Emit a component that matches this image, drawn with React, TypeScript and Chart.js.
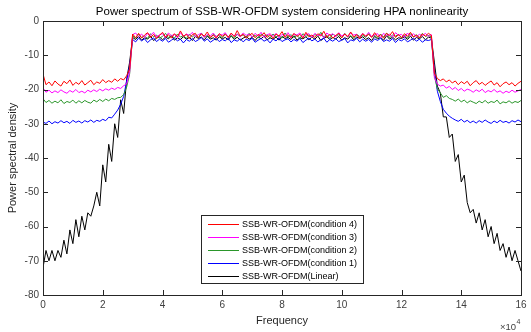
import React, { useEffect, useRef } from "react";
import { Chart, registerables } from "chart.js";

Chart.register(...registerables);

// x grid: 1000 Hz spacing from 0 to 160000
const FREQ_STEP = 1000;
const frequency: number[] = Array.from({ length: 161 }, (_, i) => i * FREQ_STEP);

const xTickValues = [0, 20000, 40000, 60000, 80000, 100000, 120000, 140000, 160000];
const xTickLabels = ["0", "2", "4", "6", "8", "10", "12", "14", "16"];
const yTickValues = [0, -10, -20, -30, -40, -50, -60, -70, -80];

const seriesLabels = [
  "SSB-WR-OFDM(condition 4)",
  "SSB-WR-OFDM(condition 3)",
  "SSB-WR-OFDM(condition 2)",
  "SSB-WR-OFDM(condition 1)",
  "SSB-WR-OFDM(Linear)",
];
const seriesColors = ["#ff0000", "#ff00ff", "#2a962a", "#0000ff", "#000000"];

// ---- condition 4 (red)
const cond4Left = [
  -15.5, -18.6, -17.8, -18.9, -17.5, -18.4, -19.0, -17.6, -18.3, -17.2,
  -18.8, -17.9, -18.5, -17.4, -18.7, -18.0, -17.3, -18.6, -17.8, -18.2,
  -17.1, -18.0, -17.4, -17.9, -16.9, -17.6, -16.8, -17.2, -16.0, -14.0,
];
const cond4Band = [
  -3.8, -4.9, -3.6, -5.0, -4.1, -3.4, -4.8, -3.9, -5.1, -4.2,
  -3.3, -4.7, -4.0, -5.0, -3.7, -4.6, -2.9, -4.5, -3.9, -5.1,
  -4.0, -3.6, -4.9, -3.8, -4.4, -3.2, -4.8, -4.1, -5.0, -3.7,
  -4.5, -3.9, -4.8, -3.5, -4.6, -2.8, -4.4, -3.9, -5.0, -4.2,
  -3.6, -4.9, -3.9, -4.5, -3.4, -4.8, -4.0, -5.1, -3.8, -4.4,
  -3.1, -4.7, -4.0, -4.9, -3.6, -4.5, -3.9, -5.0, -3.3, -4.6,
  -4.1, -4.8, -3.7, -4.4, -3.0, -4.8, -3.9, -5.0, -4.2, -3.6,
  -4.9, -3.8, -4.5, -3.2, -4.7, -4.0, -5.1, -3.7, -4.4, -3.9,
  -4.8, -3.4, -4.6, -4.0, -5.0, -3.6, -4.3, -3.1, -4.8, -4.0,
  -4.9, -3.7, -4.5, -3.3, -4.7, -4.1, -5.0, -3.8, -4.4, -3.6,
  -4.2,
];
const cond4Right = [
  -15.2, -16.8, -17.4, -16.9, -17.8, -17.2, -18.1, -17.5, -18.6, -17.7,
  -18.3, -17.6, -18.9, -18.0, -17.4, -18.5, -17.9, -18.8, -18.1, -17.5,
  -18.7, -18.0, -19.2, -18.3, -17.8, -18.6, -18.0, -19.0, -18.2, -17.6,
];

// ---- condition 3 (magenta)
const cond3Left = [
  -19.5, -20.8, -20.2, -21.0, -20.4, -20.9, -20.1, -20.7, -21.1, -20.3,
  -20.8, -20.0, -20.9, -20.5, -21.0, -20.2, -20.7, -20.1, -20.6, -19.9,
  -20.4, -19.8, -20.2, -19.6, -20.0, -19.4, -19.7, -18.9, -18.4, -15.0,
];
const cond3Band = [
  -4.0, -3.5, -4.6, -3.8, -4.9, -3.6, -4.2, -3.3, -4.7, -4.0,
  -3.7, -4.8, -3.5, -4.3, -3.9, -4.9, -3.4, -4.5, -3.8, -4.2,
  -3.3, -4.6, -4.0, -3.6, -4.8, -3.9, -4.4, -3.5, -4.7, -3.8,
  -4.1, -3.4, -4.9, -3.7, -4.3, -3.9, -4.6, -3.5, -4.2, -3.8,
  -4.7, -3.6, -4.4, -3.3, -4.8, -4.0, -3.7, -4.5, -3.6, -4.9,
  -3.9, -4.3, -3.4, -4.7, -3.8, -4.1, -3.5, -4.6, -4.0, -3.7,
  -4.8, -3.6, -4.3, -3.9, -4.9, -3.5, -4.2, -3.7, -4.6, -3.4,
  -4.4, -3.8, -4.7, -3.5, -4.1, -3.9, -4.8, -3.6, -4.5, -3.3,
  -4.6, -4.0, -3.7, -4.9, -3.6, -4.3, -3.8, -4.7, -3.4, -4.2,
  -3.9, -4.8, -3.5, -4.4, -3.7, -4.6, -3.9, -4.3, -3.6, -4.5,
  -4.0,
];
const cond3Right = [
  -16.5, -18.4, -19.0, -18.7, -19.6, -19.1, -20.0, -19.4, -20.3, -19.7,
  -20.5, -19.9, -20.2, -20.8, -20.1, -20.6, -19.9, -20.9, -20.3, -20.7,
  -20.0, -20.8, -20.4, -21.1, -20.5, -20.9, -20.2, -20.8, -20.4, -20.0,
];

// ---- condition 2 (green)
const cond2Left = [
  -22.7, -23.8, -23.2, -24.0, -23.4, -23.9, -23.0, -24.1, -23.5, -23.8,
  -23.1, -24.0, -23.3, -23.9, -23.2, -23.7, -24.0, -23.1, -23.6, -22.9,
  -23.5, -22.8, -23.3, -22.6, -22.9, -22.4, -22.3, -21.5, -19.3, -15.5,
];
const cond2Band = [
  -4.3, -5.0, -3.9, -4.8, -4.4, -5.1, -3.7, -4.6, -4.1, -5.0,
  -4.5, -3.6, -4.9, -4.2, -5.0, -3.8, -4.7, -4.3, -5.1, -3.9,
  -4.6, -4.0, -4.9, -3.5, -4.7, -4.2, -5.0, -3.9, -4.5, -4.1,
  -4.9, -3.7, -4.6, -4.3, -5.1, -3.8, -4.5, -4.0, -4.8, -3.6,
  -4.7, -4.2, -5.0, -3.9, -4.4, -4.1, -4.9, -3.8, -4.6, -4.3,
  -5.0, -3.5, -4.7, -4.0, -4.8, -4.2, -5.1, -3.7, -4.5, -4.1,
  -4.9, -3.9, -4.6, -3.3, -4.8, -4.2, -5.0, -3.8, -4.4, -4.0,
  -4.9, -3.6, -4.7, -4.3, -5.0, -3.9, -4.5, -4.1, -4.8, -3.7,
  -4.6, -4.2, -5.0, -3.8, -4.7, -3.5, -4.9, -4.1, -4.4, -3.9,
  -4.8, -4.2, -5.0, -3.7, -4.6, -4.0, -4.9, -3.6, -4.5, -4.2,
  -4.7,
];
const cond2Right = [
  -16.0, -19.8, -21.0, -22.3, -21.8, -22.6, -22.9, -23.4, -22.8, -23.6,
  -23.1, -23.9, -23.3, -23.7, -24.1, -23.4, -23.9, -23.2, -24.0, -23.5,
  -23.8, -23.1, -24.2, -23.6, -23.9, -23.3, -24.0, -23.5, -23.8, -23.2,
];

// ---- condition 1 (blue)
const cond1Left = [
  -29.5, -29.9, -29.2, -30.0, -29.4, -29.8, -29.1, -29.7, -29.3, -29.9,
  -29.0, -29.6, -29.2, -29.8, -29.1, -29.5, -28.9, -29.6, -29.0, -29.3,
  -28.7, -29.1, -28.1, -28.3, -27.2, -26.0, -24.3, -22.0, -17.5, -13.0,
];
const cond1Band = [
  -5.4, -6.1, -5.0, -5.8, -5.2, -6.3, -5.5, -4.9, -6.0, -5.3,
  -5.9, -5.1, -6.2, -5.6, -5.0, -5.8, -5.3, -6.4, -5.4, -5.9,
  -5.1, -6.0, -5.5, -4.8, -5.9, -5.2, -6.2, -5.6, -5.1, -6.0,
  -5.4, -5.8, -5.0, -6.3, -5.5, -5.9, -5.2, -6.1, -5.3, -5.7,
  -5.0, -6.2, -5.6, -5.1, -5.9, -5.4, -6.4, -5.3, -5.8, -5.0,
  -6.0, -5.5, -5.2, -6.1, -5.4, -5.9, -5.1, -6.3, -5.6, -5.0,
  -5.8, -5.3, -6.1, -5.5, -5.0, -6.2, -5.4, -5.9, -5.2, -6.0,
  -5.6, -5.1, -6.4, -5.5, -5.8, -5.0, -6.1, -5.3, -5.9, -5.4,
  -6.2, -5.2, -5.7, -5.0, -6.0, -5.5, -5.9, -5.1, -6.3, -5.4,
  -5.8, -5.2, -6.1, -5.6, -5.0, -5.9, -5.3, -6.2, -5.5, -5.7,
  -5.4,
];
const cond1Right = [
  -14.0, -20.5, -23.5, -25.8, -26.9, -27.8, -28.4, -28.9, -29.3, -28.7,
  -29.5, -29.0, -29.7, -29.2, -29.8, -29.1, -29.6, -28.9, -29.5, -29.9,
  -29.2, -29.7, -29.0, -29.6, -29.3, -29.8, -29.1, -29.5, -28.9, -29.4,
];

// ---- linear (black)
const linearLeft = [
  -72, -67, -70, -67, -70, -67, -69, -64, -68, -61,
  -65, -58, -63, -57, -61, -56, -57, -54, -50, -54,
  -42, -47, -36, -41, -30, -34, -23, -27, -17, -12,
];
const linearBand = [
  -4.8, -5.4, -4.5, -5.6, -4.9, -5.3, -4.4, -5.7, -5.0, -4.6,
  -5.5, -4.7, -5.2, -4.3, -5.6, -4.9, -5.4, -4.6, -5.3, -4.8,
  -5.7, -4.5, -5.1, -4.7, -5.5, -4.4, -5.3, -4.9, -5.6, -4.6,
  -5.2, -4.8, -5.5, -4.3, -5.4, -4.7, -5.6, -5.0, -4.5, -5.3,
  -4.8, -5.7, -4.6, -5.2, -4.4, -5.5, -4.9, -5.3, -4.7, -5.6,
  -4.5, -5.1, -4.8, -5.4, -4.3, -5.6, -4.9, -5.2, -4.6, -5.5,
  -4.7, -5.3, -4.4, -5.7, -5.0, -4.6, -5.4, -4.8, -5.2, -4.5,
  -5.6, -4.9, -5.3, -4.4, -5.5, -4.7, -5.1, -4.6, -5.4, -4.9,
  -5.7, -4.5, -5.2, -4.8, -5.6, -4.3, -5.3, -4.7, -5.5, -4.9,
  -5.1, -4.6, -5.4, -4.4, -5.6, -4.8, -5.2, -4.5, -5.5, -4.7,
  -5.0,
];
const linearRight = [
  -12, -19, -21, -28, -28, -34, -33, -41, -39, -47,
  -45, -53, -56, -55, -59, -56, -61, -58, -63, -60,
  -65, -62, -67, -65, -69, -66, -70, -67, -70, -73,
];

const cond4 = [...cond4Left, ...cond4Band, ...cond4Right];
const cond3 = [...cond3Left, ...cond3Band, ...cond3Right];
const cond2 = [...cond2Left, ...cond2Band, ...cond2Right];
const cond1 = [...cond1Left, ...cond1Band, ...cond1Right];
const linear = [...linearLeft, ...linearBand, ...linearRight];
const allSeries = [cond4, cond3, cond2, cond1, linear];

const FONT = "'Liberation Sans', Arial, Helvetica, sans-serif";
const AXIS_COLOR = "#262626";

const decorPlugin = {
  id: "matlabDecor",
  afterDatasetsDraw(chart: any) {
    const { ctx, chartArea: a, scales } = chart;
    const xs = scales.x;
    const ys = scales.y;
    ctx.save();
    // axes box
    ctx.strokeStyle = AXIS_COLOR;
    ctx.lineWidth = 1;
    ctx.strokeRect(a.left + 0.5, a.top + 0.5, a.right - a.left, a.bottom - a.top);
    // inward ticks
    const tl = 5;
    ctx.beginPath();
    xTickValues.forEach((v) => {
      const px = Math.round(xs.getPixelForValue(v)) + 0.5;
      ctx.moveTo(px, a.bottom);
      ctx.lineTo(px, a.bottom - tl);
      ctx.moveTo(px, a.top);
      ctx.lineTo(px, a.top + tl);
    });
    yTickValues.forEach((v) => {
      const py = Math.round(ys.getPixelForValue(v)) + 0.5;
      ctx.moveTo(a.left, py);
      ctx.lineTo(a.left + tl, py);
      ctx.moveTo(a.right, py);
      ctx.lineTo(a.right - tl, py);
    });
    ctx.stroke();

    const cx = (a.left + a.right) / 2;
    // title
    ctx.fillStyle = "#000";
    ctx.font = `11.5px ${FONT}`;
    ctx.textAlign = "center";
    ctx.textBaseline = "middle";
    ctx.fillText("Power spectrum of SSB-WR-OFDM system considering HPA nonlinearity", cx, 12);
    // x label
    ctx.fillStyle = "#262626";
    ctx.font = `11px ${FONT}`;
    ctx.fillText("Frequency", cx, 321);
    // y label
    ctx.save();
    ctx.translate(13, (a.top + a.bottom) / 2);
    ctx.rotate(-Math.PI / 2);
    ctx.fillText("Power spectral density", 0, 0);
    ctx.restore();
    // x10^4 exponent
    ctx.textAlign = "right";
    ctx.textBaseline = "alphabetic";
    ctx.font = `9.5px ${FONT}`;
    ctx.fillStyle = "#404040";
    ctx.fillText("\u00d710", a.right - 5, 330);
    ctx.textAlign = "left";
    ctx.font = `7px ${FONT}`;
    ctx.fillText("4", a.right - 4.5, 324);

    // legend
    const ds = chart.data.datasets;
    ctx.font = `9px ${FONT}`;
    let maxW = 0;
    ds.forEach((d: any) => {
      maxW = Math.max(maxW, ctx.measureText(d.label).width);
    });
    const boxW = Math.round(41 + maxW + 6);
    const boxH = 68;
    const bx = Math.round(cx - boxW / 2);
    const by = Math.round(a.bottom - 12 - boxH);
    ctx.fillStyle = "#fff";
    ctx.fillRect(bx, by, boxW, boxH);
    ctx.strokeStyle = AXIS_COLOR;
    ctx.lineWidth = 1;
    ctx.strokeRect(bx + 0.5, by + 0.5, boxW, boxH);
    ds.forEach((d: any, i: number) => {
      const ry = by + 9.3 + i * 12.85;
      ctx.strokeStyle = d.borderColor;
      ctx.lineWidth = 1;
      ctx.beginPath();
      ctx.moveTo(bx + 7, Math.round(ry) + 0.5);
      ctx.lineTo(bx + 38, Math.round(ry) + 0.5);
      ctx.stroke();
      ctx.fillStyle = "#000";
      ctx.textAlign = "left";
      ctx.textBaseline = "middle";
      ctx.fillText(d.label, bx + 41, ry + 0.5);
    });
    ctx.restore();
  },
};

export default function App() {
  const canvasRef = useRef<HTMLCanvasElement | null>(null);

  useEffect(() => {
    if (!canvasRef.current) return;
    const datasets = allSeries.map((vals, si) => ({
      label: seriesLabels[si],
      data: frequency.map((f, i) => ({ x: f, y: vals[i] })),
      borderColor: seriesColors[si],
      backgroundColor: seriesColors[si],
      borderWidth: 1,
      pointRadius: 0,
      tension: 0,
      fill: false,
    }));
    const chart = new Chart(canvasRef.current, {
      type: "line",
      data: { datasets },
      options: {
        responsive: false,
        animation: false,
        events: [],
        layout: { padding: { left: 0, right: 10, top: 21, bottom: 0 } },
        plugins: {
          legend: { display: false },
          tooltip: { enabled: false },
          title: { display: false },
        },
        scales: {
          x: {
            type: "linear",
            min: 0,
            max: 160000,
            border: { display: false },
            grid: { display: false, drawTicks: false },
            ticks: {
              stepSize: 20000,
              autoSkip: false,
              maxRotation: 0,
              padding: 4,
              color: "#404040",
              font: { family: FONT, size: 10 },
              callback: (v: any) => {
                const idx = xTickValues.indexOf(Number(v));
                return idx >= 0 ? xTickLabels[idx] : "";
              },
            },
            afterFit: (scale: any) => {
              scale.height = 37;
            },
          },
          y: {
            type: "linear",
            min: -80,
            max: 0,
            border: { display: false },
            grid: { display: false, drawTicks: false },
            ticks: {
              stepSize: 10,
              autoSkip: false,
              padding: 4,
              color: "#404040",
              font: { family: FONT, size: 10 },
            },
            afterFit: (scale: any) => {
              scale.width = 43;
            },
          },
        },
      },
      plugins: [decorPlugin],
    });
    return () => chart.destroy();
  }, []);

  return (
    <div style={{ position: "fixed", left: 0, top: 0, width: 531, height: 332, background: "#fff" }}>
      <canvas ref={canvasRef} width={531} height={332} style={{ display: "block" }} />
    </div>
  );
}
